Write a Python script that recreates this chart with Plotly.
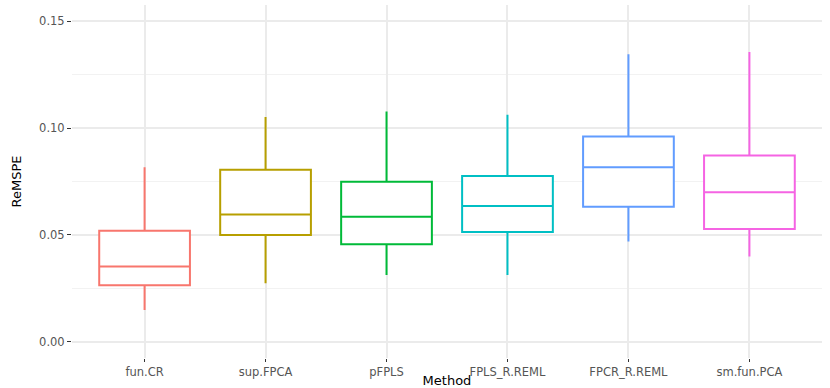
# %%
# Boxplot do ReMSPE por método (estilo ggplot theme_minimal)

import plotly.graph_objs as go

# %%
# Dados

methods = ['fun.CR', 'sup.FPCA', 'pFPLS', 'FPLS_R.REML', 'FPCR_R.REML', 'sm.fun.PCA']
lower = [0.0149, 0.0274, 0.0313, 0.0313, 0.0469, 0.0399]
q1 = [0.0265, 0.0500, 0.0457, 0.0514, 0.0632, 0.0528]
median = [0.0353, 0.0596, 0.0585, 0.0636, 0.0817, 0.0700]
q3 = [0.0520, 0.0805, 0.0749, 0.0776, 0.0960, 0.0872]
upper = [0.0817, 0.1051, 0.1077, 0.1062, 0.1345, 0.1355]

colors = ['#F8766D', '#B79F00', '#00BA38', '#00BFC4', '#619CFF', '#F564E3']

y_ticks = [0.00, 0.05, 0.10, 0.15]
y_labels = ['0.00', '0.05', '0.10', '0.15']

# %%
# Uma caixa por método

traces = []
for i, m in enumerate(methods):
    traces.append(go.Box(x=[m],
                         q1=[q1[i]],
                         median=[median[i]],
                         q3=[q3[i]],
                         lowerfence=[lower[i]],
                         upperfence=[upper[i]],
                         name=m,
                         width=0.75,
                         fillcolor='white',
                         line=dict(color=colors[i], width=2),
                         whiskerwidth=0,
                         boxpoints=False,
                         hoverinfo='y'))

layout = go.Layout(width=830, height=388,
                   showlegend=False,
                   boxmode='overlay',
                   paper_bgcolor='white',
                   plot_bgcolor='white',
                   font=dict(family='DejaVu Sans, Arial, sans-serif'),
                   margin=dict(l=72, r=8, t=5, b=30),
                   xaxis=dict(title=dict(text='Method', font=dict(size=13, color='black'), standoff=1),
                              categoryorder='array', categoryarray=methods,
                              range=[-0.6, 5.6],
                              showgrid=True, gridcolor='#EBEBEB', gridwidth=2,
                              ticks='outside', ticklen=3, tickcolor='#333333', tickwidth=1.2,
                              tickfont=dict(size=11.5, color='#555555'),
                              showline=False, zeroline=False, automargin=False),
                   yaxis=dict(title=dict(text='ReMSPE', font=dict(size=13, color='black'), standoff=14),
                              range=[-0.0075, 0.1575],
                              tickvals=y_ticks, ticktext=y_labels,
                              showgrid=True, gridcolor='#EBEBEB', gridwidth=1.6,
                              minor=dict(dtick=0.025, tick0=0, showgrid=True,
                                         gridcolor='#F2F2F2', gridwidth=0.9),
                              ticks='outside', ticklen=4, tickcolor='#333333', tickwidth=1.2,
                              tickfont=dict(size=11.5, color='#555555'),
                              showline=False, zeroline=False, automargin=False))

fig = go.Figure(data=traces, layout=layout)

# tira a margem padrão do body para a figura ocupar a janela toda
fig.write_html("out.html",
               config={'displayModeBar': False},
               post_script="document.body.style.margin='0';")
